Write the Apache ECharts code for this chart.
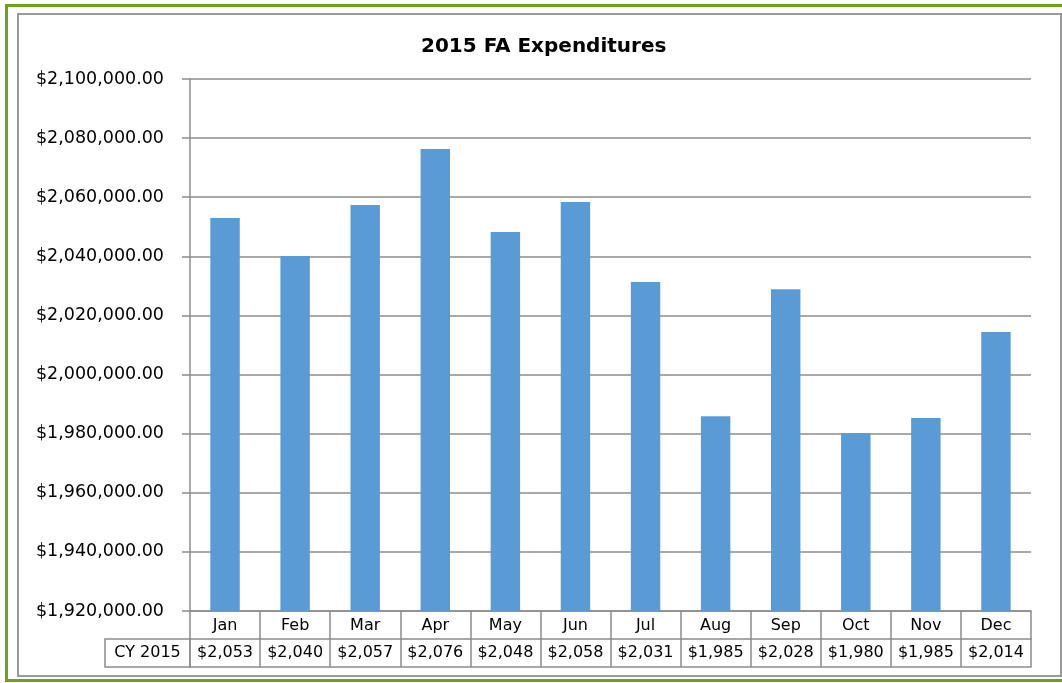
<!DOCTYPE html>
<html>
<head>
<meta charset="utf-8">
<script src="https://cdn.jsdelivr.net/npm/echarts@6/dist/echarts.min.js"></script>
<style>
  html, body { margin: 0; padding: 0; background: #fff; }
  #frame { position: absolute; left: 5px; top: 4px; width: 1070px; height: 672px; border: 3px solid #6ea11d; }
  #inner { position: absolute; left: 17px; top: 13px; width: 1041px; height: 660px; border: 2px solid #9a9a9a; }
  #main { position: absolute; left: 0; top: 0; width: 1062px; height: 683px; }
</style>
</head>
<body>
<div id="frame"></div>
<div id="inner"></div>
<div id="main"></div>
<script>
// 2015 monthly FA expenditures
var months = ['Jan', 'Feb', 'Mar', 'Apr', 'May', 'Jun', 'Jul', 'Aug', 'Sep', 'Oct', 'Nov', 'Dec'];
var expenditures = [2053000, 2040100, 2057400, 2076300, 2048200, 2058400, 2031300, 1985900, 2028900, 1980200, 1985300, 2014400];
var rowHeader = 'CY 2015';
var yMin = 1920000, yMax = 2100000, yStep = 20000;

function commas(n) {
    return String(n).replace(/\B(?=(\d{3})+(?!\d))/g, ',');
}
// the data table only shows the leading thousands (cell is too narrow)
var tableLabels = expenditures.map(function (v) { return '$' + commas(Math.floor(v / 1000)); });

var font = 'DejaVu Sans';
var lineColor = '#8c8c8c';
var H = 683;
var gridLeft = 190, gridBottom = 72, rowH = 28;

var myChart = echarts.init(document.getElementById('main'));
myChart.setOption({
    backgroundColor: 'transparent',
    animation: false,
    title: {
        text: '2015 FA Expenditures',
        left: 416,
        top: 32,
        textStyle: { fontFamily: font, fontSize: 20, fontWeight: 'bold', color: '#000' }
    },
    grid: { left: gridLeft, right: 31, top: 79, bottom: gridBottom },
    yAxis: {
        type: 'value',
        min: yMin,
        max: yMax,
        interval: yStep,
        axisLine: { show: true, lineStyle: { color: lineColor, width: 1.5 } },
        axisTick: { show: true, length: 8, lineStyle: { color: lineColor, width: 1.5 } },
        splitLine: { lineStyle: { color: lineColor, width: 1.5 } },
        axisLabel: {
            margin: 26,
            fontFamily: font,
            fontSize: 17.5,
            color: '#000',
            formatter: function (v) { return '$' + commas(v) + '.00'; }
        }
    },
    xAxis: [
        {
            type: 'category',
            data: months,
            position: 'bottom',
            axisLine: { lineStyle: { color: lineColor, width: 1.5 } },
            axisTick: { show: true, interval: 0, length: rowH * 2, lineStyle: { color: lineColor, width: 1.5 } },
            axisLabel: { interval: 0, margin: 7, fontFamily: font, fontSize: 16, color: '#000' }
        },
        {
            type: 'category',
            data: tableLabels,
            position: 'bottom',
            offset: rowH,
            axisLine: { lineStyle: { color: lineColor, width: 1.5 } },
            axisTick: { show: false },
            axisLabel: { interval: 0, margin: 6, fontFamily: font, fontSize: 16, color: '#000' }
        },
        {
            type: 'category',
            data: months,
            position: 'bottom',
            offset: rowH * 2,
            axisLine: { lineStyle: { color: lineColor, width: 1.5 } },
            axisTick: { show: false },
            axisLabel: { show: false }
        }
    ],
    graphic: [
        {
            type: 'rect',
            x: 105,
            y: H - gridBottom + rowH,
            shape: { x: 0, y: 0, width: gridLeft - 105, height: rowH },
            style: { fill: 'none', stroke: lineColor, lineWidth: 1.5 }
        },
        {
            type: 'text',
            x: (105 + gridLeft) / 2,
            y: H - gridBottom + rowH * 1.5,
            style: { text: rowHeader, fontFamily: font, fontSize: 16, fill: '#000', align: 'center', verticalAlign: 'middle' }
        }
    ],
    series: [
        {
            name: 'CY 2015',
            type: 'bar',
            xAxisIndex: 0,
            barWidth: '42%',
            itemStyle: { color: '#5b9bd5' },
            data: expenditures
        }
    ]
});
</script>
</body>
</html>
